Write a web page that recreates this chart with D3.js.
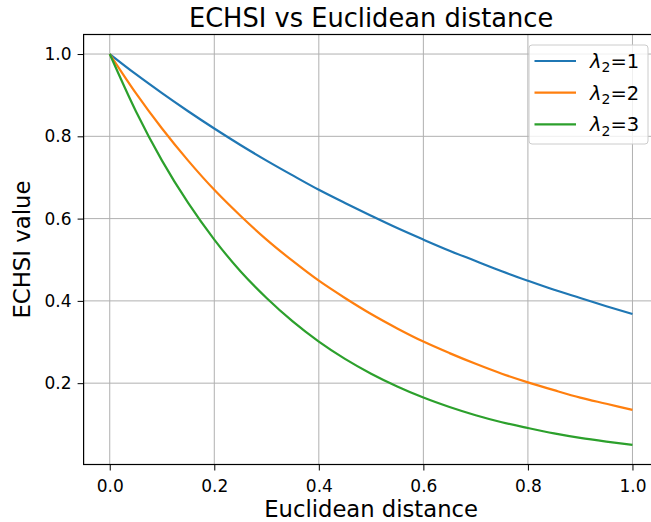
<!DOCTYPE html>
<html>
<head>
<meta charset="utf-8">
<script src="https://cdn.jsdelivr.net/npm/d3@7"></script>
<style>
  body { margin: 0; background: #fff; }
  text { font-family: "DejaVu Sans", sans-serif; fill: #000; }
</style>
</head>
<body>
<div id="chart"></div>
<script>
// distances sampled along the x axis
const distances = [0, 0.05, 0.1, 0.15, 0.2, 0.25, 0.3, 0.35, 0.4, 0.45, 0.5,
                   0.55, 0.6, 0.65, 0.7, 0.75, 0.8, 0.85, 0.9, 0.95, 1.0];
// ECHSI values
const lambda1 = [1.000, 0.951, 0.905, 0.861, 0.819, 0.779, 0.741, 0.705, 0.670, 0.638, 0.607,
                 0.577, 0.549, 0.522, 0.497, 0.472, 0.449, 0.427, 0.407, 0.387, 0.368];
const lambda2 = [1.000, 0.905, 0.819, 0.741, 0.670, 0.607, 0.549, 0.497, 0.449, 0.407, 0.368,
                 0.333, 0.301, 0.273, 0.247, 0.223, 0.202, 0.183, 0.165, 0.150, 0.135];
const lambda3 = [1.000, 0.861, 0.741, 0.638, 0.549, 0.472, 0.407, 0.350, 0.301, 0.259, 0.223,
                 0.192, 0.165, 0.142, 0.122, 0.105, 0.091, 0.078, 0.067, 0.058, 0.050];
const seriesNames = ['1', '2', '3'];
const xTicks = [0, 0.2, 0.4, 0.6, 0.8, 1.0];
const yTicks = [0.2, 0.4, 0.6, 0.8, 1.0];

const series = [lambda1, lambda2, lambda3];
const colors = ['#1f77b4', '#ff7f0e', '#2ca02c'];

const W = 651, H = 522;
const margin = {top: 34.5, left: 83.6, right: -7.6, bottom: 57.5};
const width = W - margin.left - margin.right;
const height = H - margin.top - margin.bottom;

const svg = d3.select('#chart').append('svg')
    .attr('width', W)
    .attr('height', H);

const g = svg.append('g')
    .attr('transform', `translate(${margin.left},${margin.top})`);

const x = d3.scaleLinear().domain([-0.05, 1.05]).range([0, width]);
const y = d3.scaleLinear().domain([0.0023, 1.0475]).range([height, 0]);

// grid
g.append('g').selectAll('line')
    .data(xTicks).enter().append('line')
    .attr('x1', d => x(d)).attr('x2', d => x(d))
    .attr('y1', 0).attr('y2', height)
    .attr('stroke', '#b0b0b0').attr('stroke-width', 1);
g.append('g').selectAll('line')
    .data(yTicks).enter().append('line')
    .attr('y1', d => y(d)).attr('y2', d => y(d))
    .attr('x1', 0).attr('x2', width)
    .attr('stroke', '#b0b0b0').attr('stroke-width', 1);

// axes
const xAxis = d3.axisBottom(x).tickValues(xTicks).tickFormat(d3.format('.1f'))
    .tickSizeOuter(0).tickSizeInner(6).tickPadding(5);
const yAxis = d3.axisLeft(y).tickValues(yTicks).tickFormat(d3.format('.1f'))
    .tickSizeOuter(0).tickSizeInner(6).tickPadding(6);

g.append('g').attr('transform', `translate(0,${height})`).call(xAxis)
    .call(a => a.select('.domain').remove())
    .selectAll('text').style('font-size', '17px').attr('dy', '0.95em');
g.append('g').call(yAxis)
    .call(a => a.select('.domain').remove())
    .selectAll('text').style('font-size', '17px');

// lines
const line = d3.line()
    .x((d, i) => x(distances[i]))
    .y(d => y(d))
    .curve(d3.curveMonotoneX);

g.selectAll('.series')
    .data(series).enter().append('path')
    .attr('class', 'series')
    .attr('d', line)
    .attr('fill', 'none')
    .attr('stroke', (d, i) => colors[i])
    .attr('stroke-width', 2.2);

// frame
g.append('rect')
    .attr('x', 0).attr('y', 0)
    .attr('width', width).attr('height', height)
    .attr('fill', 'none').attr('stroke', '#000').attr('stroke-width', 1.2);

// title and labels
svg.append('text')
    .attr('x', margin.left + width / 2).attr('y', 27)
    .attr('text-anchor', 'middle')
    .style('font-size', '25.7px')
    .text('ECHSI vs Euclidean distance');
svg.append('text')
    .attr('x', margin.left + width / 2).attr('y', 516.5)
    .attr('text-anchor', 'middle')
    .style('font-size', '22.7px')
    .text('Euclidean distance');
svg.append('text')
    .attr('transform', `translate(29.5,${margin.top + height / 2}) rotate(-90)`)
    .attr('text-anchor', 'middle')
    .style('font-size', '22.8px')
    .text('ECHSI value');

// legend
const legend = svg.append('g').attr('transform', 'translate(529,45)');
legend.append('rect')
    .attr('width', 119).attr('height', 99)
    .attr('rx', 3)
    .attr('fill', '#fff').attr('fill-opacity', 0.8)
    .attr('stroke', '#cccccc');
seriesNames.forEach((name, i) => {
    const row = legend.append('g').attr('transform', `translate(0,${16 + i * 31.7})`);
    row.append('line')
        .attr('x1', 5.5).attr('x2', 47)
        .attr('stroke', colors[i]).attr('stroke-width', 2.2);
    const t = row.append('text').attr('x', 61).attr('dy', '0.36em').style('font-size', '19.5px');
    t.append('tspan').style('font-style', 'italic').text('λ');
    t.append('tspan').attr('dy', '0.3em').style('font-size', '14px').text('2');
    t.append('tspan').attr('dy', '-0.22em').text('=' + name);
});
</script>
</body>
</html>
